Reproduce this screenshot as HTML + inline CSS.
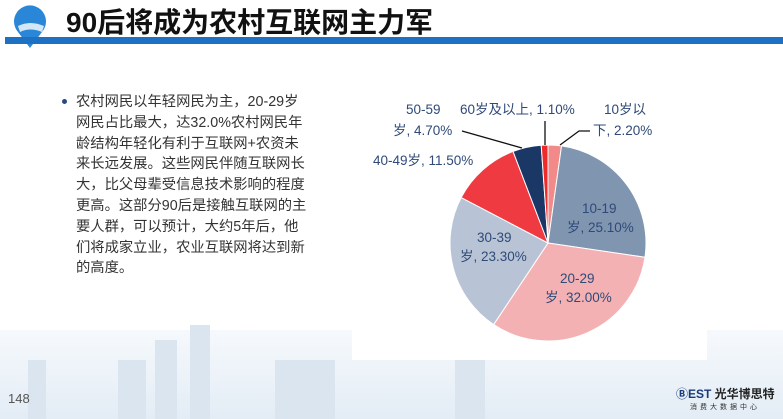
<!DOCTYPE html>
<html><head><meta charset="utf-8"><style>
body{margin:0;width:783px;height:419px;overflow:hidden;background:#fff;font-family:"Liberation Sans","Noto Sans CJK SC",sans-serif;position:relative}
.bg{position:absolute;left:0;top:330px;width:783px;height:89px;background:linear-gradient(#f6f9fc,#e3ecf5)}
.b{position:absolute;background:#dbe5f0}
.title{position:absolute;left:66px;top:1px;font-size:28px;font-weight:bold;color:#111}
.bar{position:absolute;left:5px;top:37px;width:778px;height:7px;background:#1d70c2}
.txt{position:absolute;left:76px;top:92px;width:260px;font-size:14.3px;line-height:20.8px;color:#333;white-space:nowrap}
.dot{position:absolute;left:62px;top:99px;width:5px;height:5px;background:#2a4a80;border-radius:50%}
.card{position:absolute;left:352px;top:60px;width:355px;height:300px;background:#fff}
</style></head><body>
<div class="bg"></div>
<div class="b" style="left:28px;top:360px;width:18px;height:59px"></div>
<div class="b" style="left:118px;top:360px;width:28px;height:59px"></div>
<div class="b" style="left:155px;top:340px;width:22px;height:79px"></div>
<div class="b" style="left:190px;top:325px;width:20px;height:94px"></div>
<div class="b" style="left:275px;top:360px;width:60px;height:59px"></div>
<div class="b" style="left:455px;top:360px;width:30px;height:59px"></div>
<div class="card"></div>
<svg style="position:absolute;left:10px;top:2px" width="40" height="48" viewBox="0 0 40 48">
<path d="M20 46 L8 30 A16 16 0 1 1 32 30 Z" fill="#2a86d6"/>
<path d="M8 24 Q20 18 34 24 L32 30 Q20 25 10 30Z" fill="#fff" opacity=".8"/>
</svg>
<div class="title">90后将成为农村互联网主力军</div>
<div class="bar"></div>
<div class="dot"></div>
<div class="txt">农村网民以年轻网民为主，20-29岁<br>网民占比最大，达32.0%农村网民年<br>龄结构年轻化有利于互联网+农资未<br>来长远发展。这些网民伴随互联网长<br>大，比父母辈受信息技术影响的程度<br>更高。这部分90后是接触互联网的主<br>要人群，可以预计，大约5年后，他<br>们将成家立业，农业互联网将达到新<br>的高度。</div>
<svg id="pie" style="position:absolute;left:0;top:0" width="783" height="419" font-family="Liberation Sans, Noto Sans CJK SC, sans-serif" font-size="13.5" fill="#2f4a78">
<g id="sl"></g>
<polyline points="462,131 522,148" fill="none" stroke="#111" stroke-width="1.3"/>
<polyline points="545,121 545,145" fill="none" stroke="#111" stroke-width="1.3"/>
<polyline points="590,131 579,131 560,145" fill="none" stroke="#111" stroke-width="1.3"/>
<text x="406" y="114">50-59</text><text x="393" y="135">岁, 4.70%</text>
<text x="460" y="114">60岁及以上, 1.10%</text>
<text x="604" y="114">10岁以</text><text x="593" y="135">下, 2.20%</text>
<text x="373" y="165">40-49岁, 11.50%</text>
<text x="582" y="213">10-19</text><text x="567" y="232">岁, 25.10%</text>
<text x="477" y="242">30-39</text><text x="460" y="261">岁, 23.30%</text>
<text x="560" y="283">20-29</text><text x="545" y="302">岁, 32.00%</text>
</svg>
<div style="position:absolute;left:8px;top:391px;font-size:13px;color:#555">148</div>
<div style="position:absolute;left:676px;top:385px;font-size:12px;font-weight:bold;color:#1a3a7a">ⒷEST<span style="color:#222"> 光华博思特</span></div>
<div style="position:absolute;left:690px;top:402px;font-size:7px;color:#333;letter-spacing:3px">消费大数据中心</div>
<script>
var d=[[2.2,"#f28a8a"],[25.1,"#8095b0"],[32,"#f4b1b4"],[23.3,"#b8c4d5"],[11.5,"#f03a42"],[4.7,"#1b3766"],[1.1,"#ee2a2a"]];
var cx=548,cy=243,r=98,a=0,h="",t=99.9;
d.forEach(function(s){var a2=a+s[0]/t*2*Math.PI;
var x1=cx+r*Math.sin(a),y1=cy-r*Math.cos(a),x2=cx+r*Math.sin(a2),y2=cy-r*Math.cos(a2);
h+='<path d="M'+cx+' '+cy+' L'+x1+' '+y1+' A'+r+' '+r+' 0 '+((a2-a)>Math.PI?1:0)+' 1 '+x2+' '+y2+'Z" fill="'+s[1]+'" stroke="#fff" stroke-width="1"/>';a=a2;});
document.getElementById("sl").innerHTML=h;
</script>
</body></html>
